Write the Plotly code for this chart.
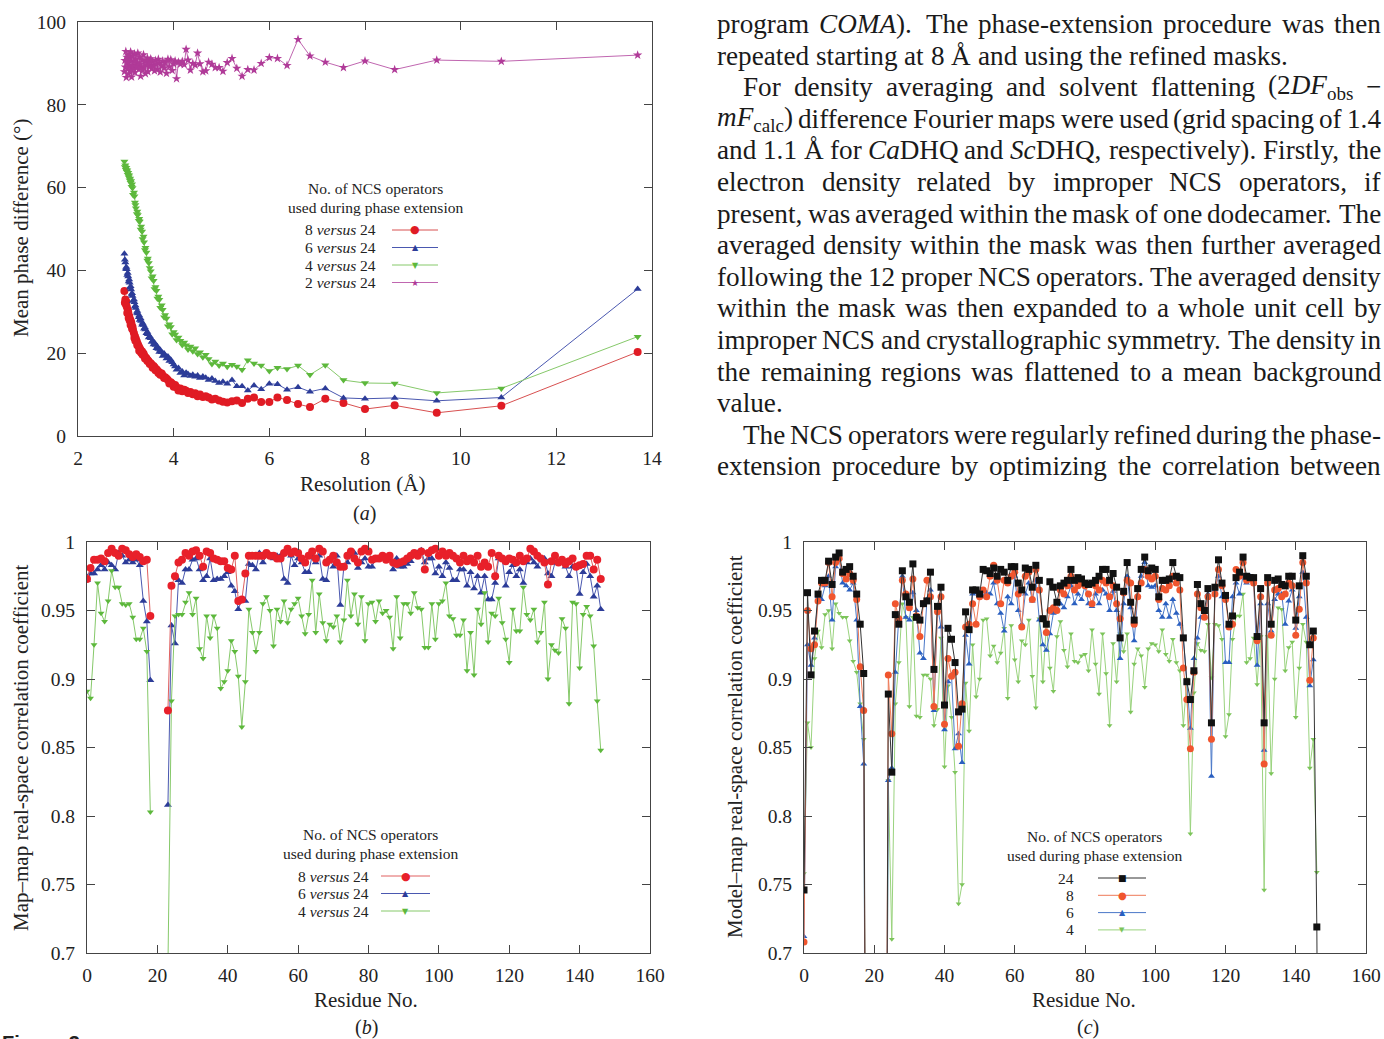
import re
import plotly.graph_objects as go

W, H = 1384, 1039
SERIF = "Liberation Serif, Times New Roman, serif"

# ---------------- panel (a): mean phase difference vs resolution ----------------
resolution = [13.70, 10.85, 9.50, 8.62, 8.00, 7.55, 7.17, 6.85, 6.60, 6.37,
              6.17, 6.00, 5.83, 5.68, 5.55, 5.43, 5.32, 5.22, 5.12, 5.03,
              4.95, 4.87, 4.80, 4.73, 4.67, 4.61, 4.55, 4.50, 4.45, 4.40,
              4.35, 4.30, 4.26, 4.22, 4.18, 4.14, 4.10, 4.06, 4.03, 4.00,
              3.97, 3.94, 3.91, 3.88, 3.85, 3.82, 3.80, 3.77, 3.75, 3.72,
              3.70, 3.68, 3.66, 3.64, 3.62, 3.60, 3.58, 3.56, 3.54, 3.52, 3.50,
              3.48, 3.46, 3.45, 3.43, 3.41, 3.40, 3.38, 3.37, 3.35, 3.34,
              3.32, 3.31, 3.29, 3.28, 3.27, 3.25, 3.24, 3.23, 3.21, 3.20,
              3.19, 3.18, 3.17, 3.15, 3.14, 3.13, 3.12, 3.11, 3.10, 3.09, 3.08,
              3.07, 3.06, 3.05, 3.04, 3.03, 3.02, 3.01, 3.00, 2.99, 2.98, 2.97]

phase_8v24 = [20.3, 7.3, 5.6, 7.4, 6.5, 8.0, 9.0, 7.0, 7.7, 8.7,
              9.3, 8.2, 8.2, 9.3, 9.0, 8.0, 8.6, 8.4, 8.1, 8.3,
              8.6, 9.0, 8.8, 9.3, 9.6, 9.4, 10.0, 9.6, 10.3, 10.1,
              10.6, 10.4, 10.9, 11.2, 10.8, 11.5, 11.0, 11.8, 12.3, 11.9,
              12.6, 13.0, 12.7, 13.5, 13.9, 14.2, 14.0, 14.6, 15.1, 14.8,
              15.4, 15.2, 15.8, 16.1, 15.9, 16.6, 16.9, 16.5, 17.3, 17.6, 17.4,
              18.0, 18.3, 18.1, 18.8, 19.0, 18.7, 19.5, 19.9, 19.6, 20.4,
              20.1, 20.8, 21.2, 20.6, 21.7, 22.2, 21.9, 22.8, 23.5, 23.0,
              24.1, 23.7, 24.8, 25.6, 26.3, 25.9, 27.0, 27.6, 26.8, 28.2, 27.9,
              29.0, 28.5, 29.9, 30.5, 29.7, 31.2, 32.4, 31.8, 33.0, 32.2, 35.0]

phase_6v24 = [35.5, 9.3, 8.5, 9.2, 9.0, 9.2, 11.5, 10.7, 11.8, 11.2,
              12.5, 12.6, 11.3, 12.2, 11.0, 12.0, 12.0, 13.5, 12.6, 13.1,
              12.8, 13.3, 13.9, 13.5, 14.1, 14.4, 14.0, 14.6, 14.3, 14.8,
              14.5, 15.0, 15.3, 14.6, 15.6, 15.2, 16.4, 16.0, 16.8, 17.3,
              17.8, 18.4, 18.1, 19.2, 18.7, 19.5, 19.9, 19.3, 20.2, 20.8,
              20.3, 21.0, 21.6, 21.2, 22.0, 22.5, 22.1, 23.0, 22.7, 23.6, 24.1,
              23.8, 24.6, 25.1, 24.8, 25.7, 26.2, 25.9, 26.8, 27.3, 26.9,
              27.8, 28.4, 28.0, 29.1, 28.7, 29.6, 30.2, 29.8, 30.9, 31.5,
              31.2, 32.3, 33.0, 32.6, 33.8, 34.5, 34.1, 35.4, 36.2, 35.8, 37.0,
              37.8, 37.3, 38.5, 39.4, 38.9, 40.3, 40.8, 40.4, 41.9, 42.6, 44.0]

phase_4v24 = [24.0, 11.5, 10.4, 12.7, 12.8, 13.5, 17.1, 14.8, 17.0, 16.2,
              16.5, 15.7, 17.0, 17.5, 18.3, 16.0, 16.8, 17.2, 16.7, 17.5,
              17.0, 18.0, 17.4, 18.6, 19.6, 19.0, 20.2, 19.8, 21.2, 20.5,
              21.6, 20.9, 21.9, 22.6, 22.0, 23.0, 23.8, 23.2, 24.5, 25.1,
              24.6, 26.3, 27.0, 26.5, 28.4, 29.2, 28.7, 30.5, 31.6, 31.0,
              32.9, 33.7, 33.2, 35.1, 36.0, 35.5, 37.5, 38.6, 38.1, 39.8, 40.6,
              41.8, 42.9, 42.4, 44.3, 45.5, 44.9, 46.8, 48.2, 47.6, 49.4,
              50.6, 49.9, 51.8, 52.5, 52.0, 53.4, 54.2, 53.6, 55.0, 55.8,
              56.4, 57.9, 58.8, 58.3, 59.9, 60.8, 60.2, 61.6, 61.2, 62.2, 61.8,
              63.0, 62.5, 63.6, 63.1, 64.2, 63.8, 64.8, 64.3, 65.4, 65.0, 66.3]

phase_2v24 = [92.0, 90.5, 90.8, 88.5, 90.6, 89.0, 90.3, 91.8, 95.8, 89.5,
              91.2, 91.4, 90.0, 88.4, 88.5, 86.9, 88.8, 91.2, 90.2, 88.1,
              89.0, 89.0, 89.8, 90.3, 88.2, 88.0, 89.9, 92.5, 89.6, 90.0,
              88.4, 90.8, 93.4, 89.7, 90.5, 89.8, 90.3, 86.3, 90.6, 89.9,
              88.3, 90.9, 89.2, 91.0, 87.6, 90.2, 88.9, 90.6, 89.4, 87.9,
              90.1, 91.0, 88.6, 89.8, 90.7, 88.2, 89.5, 90.4, 88.8, 91.1, 89.3,
              90.2, 88.0, 91.3, 89.6, 87.5, 90.5, 89.0, 92.1, 88.4, 90.8,
              89.2, 86.9, 91.6, 89.8, 88.6, 92.5, 90.1, 88.9, 91.0, 89.5,
              87.8, 92.3, 90.4, 88.7, 91.8, 89.3, 86.7, 90.6, 92.8, 88.2, 91.4,
              89.6, 87.5, 92.0, 90.2, 88.8, 91.5, 86.6, 92.9, 89.1, 90.7, 88.0]

# ---------------- panel (b): map-map correlation per residue ----------------
residues_b = list(range(147))
mapcc_8v24 = [0.973, 0.981, 0.987, 0.987, 0.988, 0.986, 0.992, 0.995, 0.992, 0.990,
              0.995, 0.994, 0.991, 0.989, 0.991, 0.989, 0.986, 0.987, 0.946, None,
              None, None, None, 0.877, 0.968, 0.975, 0.985, 0.987, 0.992, 0.990,
              0.993, 0.994, 0.990, 0.982, 0.993, 0.992, 0.988, 0.987, 0.986, 0.986,
              0.981, 0.980, 0.990, 0.957, 0.958, 0.977, 0.990, 0.990, 0.990, 0.990,
              0.990, 0.992, 0.990, 0.990, 0.988, 0.988, 0.992, 0.995, 0.992, 0.993,
              0.992, 0.988, 0.985, 0.990, 0.993, 0.988, 0.995, 0.993, 0.985, 0.987,
              0.990, 0.985, 0.982, 0.982, 0.990, 0.993, 0.988, 0.985, 0.993, 0.995,
              0.993, 0.987, 0.988, 0.988, 0.990, 0.987, 0.990, 0.985, 0.984, 0.985,
              0.986, 0.988, 0.990, 0.992, 0.990, 0.993, 0.980, 0.992, 0.994, 0.995,
              0.990, 0.993, 0.990, 0.992, 0.990, 0.988, 0.985, 0.990, 0.986, 0.988,
              0.985, 0.990, 0.982, 0.985, 0.982, 0.992, 0.975, 0.990, 0.988, 0.986,
              0.988, 0.987, 0.985, 0.990, 0.986, 0.988, 0.995, 0.993, 0.990, 0.988,
              0.985, 0.969, 0.986, 0.990, 0.985, 0.987, 0.984, 0.986, 0.988, 0.982,
              0.983, 0.984, 0.990, 0.990, 0.980, 0.987, 0.973]
mapcc_6v24 = [0.972, 0.977, 0.977, 0.980, 0.983, 0.980, 0.985, 0.983, 0.980, 0.992,
              0.990, 0.985, 0.987, 0.985, 0.987, 0.983, 0.957, 0.942, 0.899, None,
              None, None, None, 0.808, 0.939, 0.926, 0.972, 0.970, 0.980, 0.980,
              0.987, 0.988, 0.980, 0.972, 0.975, 0.988, 0.972, 0.973, 0.973, 0.975,
              0.978, 0.968, 0.964, 0.951, 0.958, 0.957, 0.984, 0.983, 0.980, 0.992,
              0.985, 0.990, 0.990, 0.988, 0.990, 0.990, 0.973, 0.970, 0.990, 0.983,
              0.988, 0.985, 0.978, 0.978, 0.990, 0.985, 0.990, 0.973, 0.972, 0.988,
              0.982, 0.990, 0.954, 0.982, 0.985, 0.990, 0.992, 0.981, 0.985, 0.988,
              0.982, 0.982, 0.988, 0.988, 0.989, 0.988, 0.988, 0.980, 0.988, 0.982,
              0.982, 0.984, 0.986, 0.990, 0.992, 0.994, 0.985, 0.988, 0.988, 0.977,
              0.982, 0.975, 0.985, 0.981, 0.972, 0.972, 0.980, 0.980, 0.968, 0.978,
              0.966, 0.975, 0.963, 0.975, 0.958, 0.958, 0.970, 0.988, 0.988, 0.968,
              0.978, 0.983, 0.975, 0.980, 0.970, 0.985, 0.988, 0.985, 0.982, 0.988,
              0.988, 0.977, 0.975, 0.985, 0.985, 0.987, 0.982, 0.975, 0.982, 0.982,
              0.962, 0.978, 0.984, 0.975, 0.960, 0.968, 0.951]
mapcc_4v24 = [0.891, 0.886, 0.925, 0.970, 0.948, 0.942, 0.957, 0.979, 0.967, 0.967,
              0.955, 0.954, 0.955, 0.945, 0.929, 0.929, 0.937, 0.920, 0.803, None,
              None, None, None, 0.690, 0.884, 0.946, 0.947, 0.947, 0.956, 0.963,
              0.947, 0.959, 0.922, 0.915, 0.946, 0.930, 0.946, 0.937, 0.893, 0.898,
              0.906, 0.928, 0.920, 0.902, 0.865, 0.898, 0.951, 0.934, 0.920, 0.934,
              0.955, 0.960, 0.950, 0.924, 0.951, 0.942, 0.957, 0.941, 0.951, 0.955,
              0.959, 0.946, 0.933, 0.947, 0.972, 0.934, 0.962, 0.941, 0.928, 0.940,
              0.938, 0.946, 0.927, 0.943, 0.972, 0.946, 0.962, 0.940, 0.960, 0.928,
              0.955, 0.956, 0.942, 0.957, 0.948, 0.950, 0.945, 0.922, 0.960, 0.930,
              0.955, 0.955, 0.948, 0.963, 0.952, 0.951, 0.923, 0.923, 0.955, 0.929,
              0.955, 0.957, 0.970, 0.946, 0.944, 0.932, 0.932, 0.943, 0.906, 0.934,
              0.903, 0.951, 0.940, 0.963, 0.927, 0.948, 0.946, 0.959, 0.941, 0.929,
              0.912, 0.951, 0.935, 0.935, 0.967, 0.947, 0.943, 0.951, 0.927, 0.934,
              0.956, 0.900, 0.925, 0.921, 0.919, 0.944, 0.937, 0.882, 0.956, 0.955,
              0.908, 0.947, 0.953, 0.946, 0.924, 0.884, 0.848]

# ---------------- panel (c): model-map correlation per residue ----------------
residues_c = list(range(148))
modcc_24 = [0.746, 0.963, 0.903, 0.935, 0.962, 0.972, 0.972, 0.986, 0.969, 0.989,
            0.992, 0.978, 0.980, 0.982, 0.975, 0.962, 0.940, 0.904, 0.30, None,
            None, None, None, 0.30, 0.889, 0.832, 0.947, 0.940, 0.979, 0.960,
            0.956, 0.984, 0.945, 0.943, 0.955, 0.957, 0.978, 0.907, 0.953, 0.967,
            0.881, 0.937, 0.929, 0.912, 0.876, 0.878, 0.949, 0.936, 0.965, 0.965,
            0.962, 0.980, 0.979, 0.977, 0.981, 0.975, 0.980, 0.978, 0.972, 0.982,
            0.982, 0.970, 0.965, 0.981, 0.980, 0.967, 0.983, 0.972, 0.944, 0.940,
            0.971, 0.967, 0.956, 0.968, 0.970, 0.972, 0.980, 0.972, 0.974, 0.973,
            0.970, 0.969, 0.970, 0.972, 0.975, 0.980, 0.980, 0.972, 0.977, 0.967,
            0.930, 0.964, 0.985, 0.956, 0.943, 0.966, 0.980, 0.989, 0.979, 0.981,
            0.980, 0.960, 0.972, 0.972, 0.973, 0.985, 0.975, 0.974, 0.930, 0.898,
            0.885, 0.906, 0.969, 0.955, 0.950, 0.966, 0.868, 0.967, 0.987, 0.970,
            0.961, 0.940, 0.946, 0.974, 0.978, 0.989, 0.975, 0.974, 0.974, 0.931,
            0.966, 0.868, 0.974, 0.940, 0.972, 0.973, 0.969, 0.968, 0.975, 0.975,
            0.943, 0.968, 0.990, 0.975, 0.925, 0.935, 0.719, 0.30]
modcc_8 = [0.708, 0.950, 0.922, 0.925, 0.957, 0.970, 0.970, 0.985, 0.960, 0.985,
           0.988, 0.977, 0.973, 0.977, 0.972, 0.958, 0.909, 0.877, 0.30, None,
           None, None, None, 0.30, 0.903, 0.860, 0.955, 0.944, 0.972, 0.962,
           0.952, 0.973, 0.946, 0.931, 0.955, 0.972, 0.960, 0.880, 0.949, 0.960,
           0.867, 0.915, 0.902, 0.905, 0.851, 0.882, 0.938, 0.940, 0.955, 0.940,
           0.960, 0.965, 0.960, 0.975, 0.983, 0.972, 0.955, 0.972, 0.970, 0.975,
           0.978, 0.962, 0.938, 0.975, 0.978, 0.958, 0.980, 0.965, 0.944, 0.934,
           0.950, 0.952, 0.950, 0.965, 0.962, 0.968, 0.975, 0.965, 0.968, 0.970,
           0.968, 0.962, 0.955, 0.968, 0.965, 0.972, 0.970, 0.960, 0.968, 0.955,
           0.944, 0.963, 0.972, 0.970, 0.940, 0.960, 0.970, 0.980, 0.975, 0.973,
           0.975, 0.958, 0.966, 0.965, 0.968, 0.975, 0.970, 0.965, 0.908, 0.885,
           0.849, 0.905, 0.962, 0.952, 0.945, 0.960, 0.856, 0.962, 0.980, 0.968,
           0.958, 0.938, 0.940, 0.980, 0.975, 0.985, 0.972, 0.973, 0.970, 0.928,
           0.960, 0.838, 0.970, 0.932, 0.965, 0.966, 0.960, 0.962, 0.970, 0.968,
           0.932, 0.951, 0.985, 0.970, 0.899, 0.930, None, None]
modcc_6 = [0.712, 0.925, 0.910, 0.930, 0.960, 0.958, 0.968, 0.975, 0.943, 0.982,
           0.988, 0.970, 0.968, 0.965, 0.970, 0.943, 0.880, 0.838, 0.30, None,
           None, None, None, 0.30, 0.826, 0.835, 0.905, 0.945, 0.975, 0.945,
           0.943, 0.963, 0.950, 0.919, 0.915, 0.958, 0.965, 0.877, 0.953, 0.938,
           0.863, 0.898, 0.903, 0.849, 0.860, 0.839, 0.932, 0.911, 0.962, 0.963,
           0.963, 0.960, 0.963, 0.962, 0.970, 0.955, 0.948, 0.935, 0.960, 0.955,
           0.975, 0.950, 0.940, 0.962, 0.970, 0.957, 0.972, 0.943, 0.925, 0.921,
           0.933, 0.948, 0.950, 0.955, 0.952, 0.960, 0.968, 0.955, 0.962, 0.958,
           0.968, 0.955, 0.953, 0.962, 0.955, 0.965, 0.962, 0.950, 0.964, 0.950,
           0.915, 0.955, 0.975, 0.952, 0.928, 0.960, 0.975, 0.985, 0.968, 0.967,
           0.968, 0.950, 0.945, 0.955, 0.945, 0.958, 0.948, 0.940, 0.930, 0.898,
           0.864, 0.915, 0.930, 0.945, 0.945, 0.962, 0.829, 0.965, 0.975, 0.960,
           0.912, 0.912, 0.960, 0.970, 0.962, 0.975, 0.970, 0.975, 0.972, 0.910,
           0.955, 0.848, 0.955, 0.935, 0.958, 0.962, 0.962, 0.940, 0.957, 0.965,
           0.937, 0.960, 0.978, 0.945, 0.895, 0.914, None, None]
modcc_4 = [0.758, 0.868, 0.850, 0.915, 0.935, 0.923, 0.947, 0.950, 0.922, 0.955,
           0.948, 0.945, 0.945, 0.928, 0.913, 0.905, 0.882, 0.856, 0.30, None,
           None, None, None, 0.30, 0.826, 0.710, 0.882, 0.912, 0.955, 0.945,
           0.880, 0.945, 0.873, 0.872, 0.903, 0.903, 0.900, 0.866, 0.878, 0.930,
           0.836, 0.895, 0.872, 0.832, 0.736, 0.750, 0.897, 0.862, 0.925, 0.887,
           0.900, 0.943, 0.944, 0.917, 0.924, 0.912, 0.919, 0.937, 0.886, 0.939,
           0.914, 0.898, 0.928, 0.925, 0.943, 0.902, 0.879, 0.944, 0.898, 0.940,
           0.908, 0.891, 0.931, 0.942, 0.921, 0.909, 0.933, 0.913, 0.912, 0.917,
           0.918, 0.906, 0.936, 0.911, 0.889, 0.933, 0.904, 0.866, 0.926, 0.898,
           0.933, 0.920, 0.933, 0.876, 0.911, 0.922, 0.917, 0.894, 0.922, 0.926,
           0.925, 0.920, 0.936, 0.918, 0.913, 0.929, 0.912, 0.906, 0.866, 0.900,
           0.787, 0.890, 0.926, 0.921, 0.920, 0.940, 0.901, 0.940, 0.939, 0.929,
           0.858, 0.874, 0.929, 0.946, 0.946, 0.962, 0.912, 0.915, 0.930, 0.896,
           0.931, 0.746, 0.931, 0.831, 0.900, 0.952, 0.951, 0.906, 0.923, 0.927,
           0.872, 0.908, 0.940, 0.927, 0.835, 0.856, 0.759, None]

cc_ticks = [0.7, 0.75, 0.8, 0.85, 0.9, 0.95, 1.0]
cc_ticktext = ["0.7", "0.75", "0.8", "0.85", "0.9", "0.95", "1"]

# body text next to the figure (right column of the page)
body_lines = [
    ("program <i>COMA</i>). The phase-extension procedure was then", 0, True),
    ("repeated starting at 8 Å and using the refined masks.", 0, False),
    ("For density averaging and solvent flattening (2<i>DF</i><sub>obs</sub> −", 26, True),
    ("<i>mF</i><sub>calc</sub>) difference Fourier maps were used (grid spacing of 1.4", 0, True),
    ("and 1.1 Å for <i>Ca</i>DHQ and <i>Sc</i>DHQ, respectively). Firstly, the", 0, True),
    ("electron density related by improper NCS operators, if", 0, True),
    ("present, was averaged within the mask of one dodecamer. The", 0, True),
    ("averaged density within the mask was then further averaged", 0, True),
    ("following the 12 proper NCS operators. The averaged density", 0, True),
    ("within the mask was then expanded to a whole unit cell by", 0, True),
    ("improper NCS and crystallographic symmetry. The density in", 0, True),
    ("the remaining regions was flattened to a mean background", 0, True),
    ("value.", 0, False),
    ("The NCS operators were regularly refined during the phase-", 26, True),
    ("extension procedure by optimizing the correlation between", 0, True),
]


def px(x):
    return x / W


def py(y):
    return 1 - y / H


# Times metrics (per 1000 em) to justify the body text
CW = {" ": 250, "(": 333, ")": 333, ",": 250, "-": 333, ".": 250, "Å": 722, "−": 564,
      "A": 722, "C": 667, "D": 722, "F": 556, "H": 722, "M": 889, "N": 722, "O": 722,
      "Q": 722, "S": 556, "T": 611, "a": 444, "b": 500, "c": 444, "d": 500, "e": 444,
      "f": 333, "g": 500, "h": 500, "i": 278, "j": 278, "k": 500, "l": 278, "m": 778,
      "n": 500, "o": 500, "p": 500, "q": 500, "r": 333, "s": 389, "t": 278, "u": 500,
      "v": 500, "w": 722, "x": 500, "y": 500, "z": 444}


def word_width(w, size):
    sub = "".join(re.findall(r"<sub>(.*?)</sub>", w))
    main = re.sub(r"<[^>]+>", "", re.sub(r"<sub>.*?</sub>", "", w))
    em = sum(CW.get(c, 500) for c in main) + 0.7 * sum(CW.get(c, 500) for c in sub)
    return size * em / 1000


fig = go.Figure()

# panel (a)
a_series = [
    (phase_8v24, "#e01b24", "#d85050", "circle", 8),
    (phase_6v24, "#2c3c98", "#4a58b0", "triangle-up", 7),
    (phase_4v24, "#5db83c", "#86c96a", "triangle-down", 7),
    (phase_2v24, "#b03a98", "#c066b0", "star", 7),
]
for vals, mc, lc, sym, sz in a_series:
    fig.add_trace(go.Scatter(x=resolution, y=vals, mode="lines+markers",
                             line=dict(color=lc, width=1),
                             marker=dict(color=mc, symbol=sym, size=sz, line_width=0),
                             xaxis="x", yaxis="y"))

# panel (b)
b_series = [
    (mapcc_6v24, "#2c3c98", "#4a58b0", "triangle-up", 7),
    (mapcc_4v24, "#5db83c", "#86c96a", "triangle-down", 6),
    (mapcc_8v24, "#e8202a", "#e06060", "circle", 8),
]
for vals, mc, lc, sym, sz in b_series:
    fig.add_trace(go.Scatter(x=residues_b, y=vals, mode="lines+markers",
                             line=dict(color=lc, width=1),
                             marker=dict(color=mc, symbol=sym, size=sz, line_width=0),
                             xaxis="x2", yaxis="y2"))

# panel (c)
c_series = [
    (modcc_4, "#7cc45a", "#9ad37e", "triangle-down", 5),
    (modcc_6, "#2a5fc0", "#4a78c8", "triangle-up", 6),
    (modcc_8, "#f0552e", "#ee7a58", "circle", 7),
    (modcc_24, "#111111", "#333333", "square", 7),
]
for vals, mc, lc, sym, sz in c_series:
    fig.add_trace(go.Scatter(x=residues_c, y=vals, mode="lines+markers",
                             line=dict(color=lc, width=1),
                             marker=dict(color=mc, symbol=sym, size=sz, line_width=0),
                             xaxis="x3", yaxis="y3"))

axis_style = dict(showline=True, linecolor="#444", linewidth=1, mirror="allticks",
                  ticks="inside", ticklen=8, tickwidth=1, tickcolor="#444",
                  showgrid=False, zeroline=False, automargin=False,
                  tickfont=dict(family=SERIF, size=19.5, color="#222"))

fig.update_layout(
    width=W, height=H, autosize=False,
    margin=dict(l=0, r=0, t=0, b=0, autoexpand=False),
    paper_bgcolor="white", plot_bgcolor="white", showlegend=False,
    xaxis=dict(domain=[px(78), px(652)], range=[2, 14], dtick=2, anchor="y",
               ticklabelstandoff=5, **axis_style),
    yaxis=dict(domain=[py(436), py(22)], range=[0, 100], dtick=20, anchor="x",
               ticklabelstandoff=7, **axis_style),
    xaxis2=dict(domain=[px(87), px(650)], range=[0, 160], dtick=20, anchor="y2",
                ticklabelstandoff=5, **axis_style),
    yaxis2=dict(domain=[py(953), py(542)], range=[0.7, 1], tickvals=cc_ticks,
                ticktext=cc_ticktext, anchor="x2", ticklabelstandoff=7, **axis_style),
    xaxis3=dict(domain=[px(804), px(1366)], range=[0, 160], dtick=20, anchor="y3",
                ticklabelstandoff=5, **axis_style),
    yaxis3=dict(domain=[py(953), py(542)], range=[0.7, 1], tickvals=cc_ticks,
                ticktext=cc_ticktext, anchor="x3", ticklabelstandoff=7, **axis_style),
)

ann = []
shapes = []


def label(x, y, text, size, angle=0, anchor="center", family=SERIF, color="#222"):
    ann.append(dict(x=px(x), y=py(y), xref="paper", yref="paper", text=text,
                    showarrow=False, textangle=angle, xanchor=anchor, yanchor="middle",
                    font=dict(family=family, size=size, color=color)))


# axis titles and panel letters
label(362, 484, "Resolution (Å)", 21)
label(364, 513, "(<i>a</i>)", 20)
label(21, 228, "Mean phase difference (°)", 21, angle=-90)
label(366, 1000, "Residue No.", 21)
label(366, 1027, "(<i>b</i>)", 20)
label(21, 748, "Map–map real-space correlation coefficient", 21, angle=-90)
label(1084, 1000, "Residue No.", 21)
label(1088, 1027, "(<i>c</i>)", 20)
label(735, 747, "Model–map real-space correlation coefficient", 21, angle=-90)


def legend(cx, ty, entries, text_right, lx0, lx1, dy):
    label(cx, ty, "No. of NCS operators", 15.5)
    label(cx, ty + 19, "used during phase extension", 15.5)
    for i, (txt, lc, glyph, gc, gs) in enumerate(entries):
        y = ty + 42 + i * dy
        label(text_right, y, txt, 15.5, anchor="right")
        shapes.append(dict(type="line", xref="paper", yref="paper",
                           x0=px(lx0), x1=px(lx1), y0=py(y), y1=py(y),
                           line=dict(color=lc, width=1)))
        label((lx0 + lx1) / 2, y, glyph, gs, family="DejaVu Sans", color=gc)


legend(376, 188, [
    ("8 <i>versus</i> 24", "#d85050", "●", "#e01b24", 11),
    ("6 <i>versus</i> 24", "#4a58b0", "▲", "#2c3c98", 8),
    ("4 <i>versus</i> 24", "#86c96a", "▼", "#5db83c", 8),
    ("2 <i>versus</i> 24", "#c066b0", "★", "#b03a98", 9),
], 378, 392, 438, 17.5)

legend(370, 834, [
    ("8 <i>versus</i> 24", "#e06060", "●", "#e8202a", 11),
    ("6 <i>versus</i> 24", "#4a58b0", "▲", "#2c3c98", 8),
    ("4 <i>versus</i> 24", "#86c96a", "▼", "#5db83c", 8),
], 371, 381, 430, 17.5)

legend(1094, 836, [
    ("24", "#333333", "■", "#111111", 9),
    ("8", "#ee7a58", "●", "#f0552e", 10),
    ("6", "#4a78c8", "▲", "#2a5fc0", 8),
    ("4", "#9ad37e", "▼", "#7cc45a", 7),
], 1076, 1098, 1146, 17.3)

# body text, justified word by word
BODY = 27.2
left, right = 716, 1380
for i, (line, indent, justify) in enumerate(body_lines):
    y = 24 + i * 31.6
    words = line.split(" ")
    widths = [word_width(w, BODY) for w in words]
    x0 = left + indent
    if justify and len(words) > 1:
        gap = (right - x0 - sum(widths)) / (len(words) - 1)
    else:
        gap = BODY * 0.25
    x = x0
    for w, wd in zip(words, widths):
        ann.append(dict(x=px(x), y=py(y), xref="paper", yref="paper", text=w,
                        showarrow=False, xanchor="left", yanchor="middle", borderpad=0,
                        font=dict(family=SERIF, size=BODY, color="#1a1a1a")))
        x += wd + gap

# caption start, cut by the page edge
ann.append(dict(x=0, y=py(1030), xref="paper", yref="paper", text="<b>Figure 3</b>",
                showarrow=False, xanchor="left", yanchor="top",
                font=dict(family="Liberation Sans, Arial, sans-serif", size=20, color="#222")))

fig.update_layout(annotations=ann, shapes=shapes)

# the page's default body margin would push the figure off the 1384x1039 window
fig.write_html("out.html", config={"displayModeBar": False},
               post_script="document.body.style.margin = '0';")
